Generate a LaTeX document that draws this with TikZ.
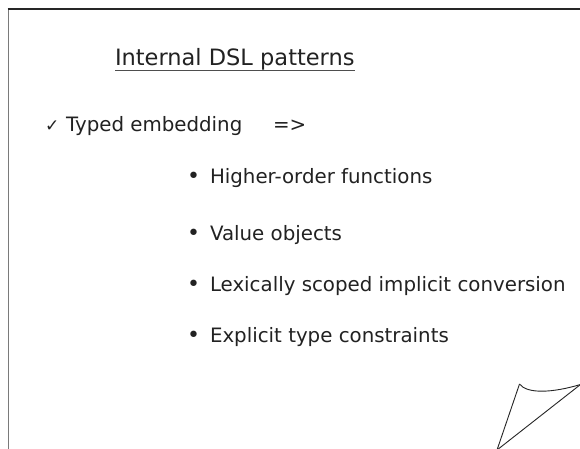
\documentclass[tikz,border=0pt]{standalone}
\usepackage{fontspec}
\setmainfont{DejaVu Sans}
\definecolor{txt}{HTML}{222222}
\definecolor{framegray}{HTML}{7A7A7A}
\definecolor{framedark}{HTML}{262626}
\begin{document}
\begin{tikzpicture}[x=1pt,y=-1pt,
  txtnode/.style={anchor=base west,inner sep=0pt,outer sep=0pt,text=txt,font=\fontsize{19.8}{23}\selectfont},
  bulletnode/.style={txtnode,font=\fontsize{22}{24}\selectfont},
  curlline/.style={draw=black!85,line width=0.9pt,line join=round}]
\useasboundingbox (0,0) rectangle (580,449);
\fill[white] (0,0) rectangle (580,449);
% frame
\coordinate (ftr) at (580,9.2);
\coordinate (fbl) at (8.5,449);
\draw[framedark,line width=1.8pt] (7.7,9.2) -- (ftr);
\draw[framegray,line width=1.7pt] (8.5,10) -- (fbl);
% title
\node[txtnode,font=\fontsize{22.5}{26}\selectfont] (title) at (115,66) {Internal DSL patterns};
\draw[txt!80,line width=1pt] ([yshift=-5pt]title.base west) -- ([yshift=-5pt]title.base east);
% check line
\node[txtnode,font=\fontsize{17}{20}\selectfont] (check) at (45,132) {✓};
\node[txtnode] (typed) at (66,132) {Typed embedding};
\node[txtnode] (arrow) at (273,132) {=>};
% bullets
\node[bulletnode] (b1) at (187,183) {•};
\node[txtnode] (i1) at (210,183) {Higher-order functions};
\node[bulletnode] (b2) at (187,240) {•};
\node[txtnode] (i2) at (210,240) {Value objects};
\node[bulletnode] (b3) at (187,291) {•};
\node[txtnode] (i3) at (210,291) {Lexically scoped implicit conversion};
\node[bulletnode] (b4) at (187,342) {•};
\node[txtnode] (i4) at (210,342) {Explicit type constraints};
% page curl
\coordinate (ct) at (519.5,384);
\coordinate (cr) at (580.5,384.5);
\coordinate (cb) at (497,450);
\draw[curlline] (cb) -- (ct);
\draw[curlline] (cb) -- (cr);
\draw[curlline] (ct) .. controls (527,394) and (552,393) .. (cr);
\end{tikzpicture}
\end{document}
